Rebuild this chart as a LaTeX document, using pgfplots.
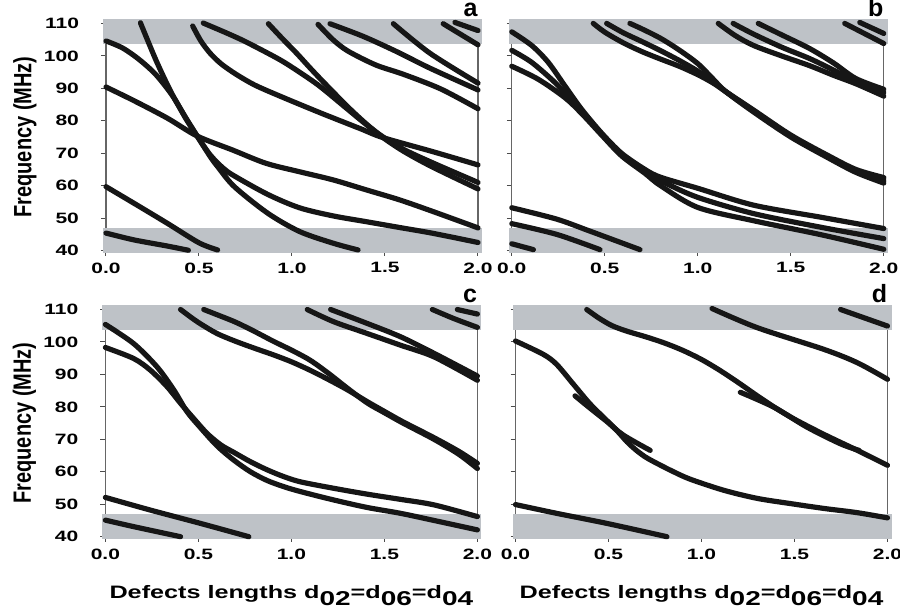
\documentclass[border=0pt]{standalone}
\usepackage{pgfplots}
\pgfplotsset{compat=1.18}
\usepackage{graphicx}
\usepackage{fontspec}
\setmainfont{Liberation Sans}
\newfontfamily\widefont[FakeStretch=1.4]{Liberation Sans}
\newcommand\ticks{\widefont\bfseries\fontsize{7.5}{8}\selectfont}
\newcommand\sub[1]{\raisebox{-3.5pt}{\fontsize{10}{10}\selectfont #1}}
\newcommand\xlab{\widefont\bfseries\fontsize{9}{10}\selectfont Defects lengths d\sub{02}=d\sub{06}=d\sub{04}}
\newcommand\ylab{\scalebox{1}[1.25]{\bfseries\fontsize{10}{12}\selectfont Frequency (MHz)}}
\definecolor{bandgray}{RGB}{190,194,199}
\definecolor{ink}{RGB}{22,22,22}

\pgfplotsset{
    panel/.style = {
        scale only axis,
        width = 186pt, height = 113.6pt,
        xmin = 0, xmax = 2, ymin = 40, ymax = 110,
        clip = false,
        xtick = {0,0.5,1,1.5,2},
        xticklabels = {0.0,0.5,1.0,1.5,2.0},
        ytick = {40,50,...,110},
        /pgf/number format/assume math mode = true,
        tick align = outside,
        xtick pos = bottom, ytick pos = left,
        major tick length = 2.5pt,
        tick style = {black!70, line width = 0.5pt},
        axis line style = {black!60, line width = 0.6pt},
        tick label style = {font = \ticks},
        yticklabel style = {xshift = -7.5pt},
        xlabel style = {at = {(axis description cs:0.5,-0.2702)}, anchor = base},
        ylabel style = {at = {(axis description cs:-0.2177,0.5)}, anchor = center}
    },
    band/.style = {fill = bandgray, draw = none},
    curve/.style = {ink, line width = 2.6pt, smooth, line cap = round, line join = round, mark = none}
}
\newcommand\bands{%
    \addplot[band] coordinates {(-0.016,39.2) (2.022,39.2) (2.022,47.0) (-0.016,47.0)} -- cycle;
    \addplot[band] coordinates {(-0.016,103.6) (2.022,103.6) (2.022,111.4) (-0.016,111.4)} -- cycle;
}
\newcommand\letter[1]{\node[anchor = base east, inner sep = 0pt, font = \bfseries\fontsize{12.5}{13}\selectfont] at (axis description cs:1,1.029) {#1};}

\begin{document}
\begin{tikzpicture}
\useasboundingbox (0,0) rectangle (450pt,305.5pt);

% panel a
\begin{axis}[panel, at = {(53pt,180.2pt)}, anchor = south west, ylabel = {\ylab}]
    \bands
    \addplot[curve] coordinates {(0,104.6) (0.09,102.4) (0.18,98.8) (0.27,94.1) (0.36,87.5) (0.43,80.6) (0.49,75.3) (0.56,69.5) (0.63,65.4) (0.69,63.0) (0.87,57.3) (1.04,53.2) (1.22,50.7) (1.4,48.9) (1.58,47.1) (1.76,45.3) (2.0,42.5)};
    \addplot[curve] coordinates {(0.185,110.2) (0.27,98.5) (0.35,88.8) (0.42,81.8) (0.49,75.3) (0.56,69.0) (0.6,65.9) (0.69,59.7) (0.87,51.5) (1.04,45.9) (1.22,42.3) (1.355,40.2)};
    \addplot[curve] coordinates {(0,90.4) (0.15,86.2) (0.33,80.8) (0.49,75.3) (0.68,71.0) (0.86,66.9) (1.04,64.3) (1.22,61.8) (1.4,58.7) (1.58,55.6) (1.76,52.0) (2.0,47.0)};
    \addplot[curve] coordinates {(0,59.7) (0.15,54.6) (0.33,48.4) (0.5,42.4) (0.6,40.2)};
    \addplot[curve] coordinates {(0,45.4) (0.15,43.3) (0.33,41.4) (0.443,40.1)};
    \addplot[curve] coordinates {(0.466,109.2) (0.51,104.6) (0.56,100.8) (0.62,97.5) (0.7,94.3) (0.8,91.0) (0.935,87.6) (1.15,82.5) (1.366,77.6) (1.49,74.8) (1.75,70.6) (2.0,66.4)};
    \addplot[curve] coordinates {(0.523,110.1) (0.65,107.0) (0.756,104.2) (0.935,98.8) (1.05,94.6) (1.15,90.6) (1.294,83.8) (1.4,78.8) (1.49,75.0) (1.6,71.2) (1.75,67.2) (2.0,61.0)};
    \addplot[curve] coordinates {(0.873,109.9) (0.95,105.2) (1.025,100.8) (1.1,96.1) (1.168,92.0) (1.3,84.3) (1.4,79.0) (1.49,74.8) (1.6,70.6) (1.75,65.9) (2.0,59.0)};
    \addplot[curve] coordinates {(1.14,109.7) (1.22,105.0) (1.3,101.5) (1.45,97.2) (1.6,94.3) (1.8,89.8) (2.0,83.7)};
    \addplot[curve] coordinates {(1.204,109.9) (1.383,106.0) (1.563,101.3) (1.742,96.2) (2.0,89.5)};
    \addplot[curve] coordinates {(1.545,109.9) (1.742,100.8) (2.0,91.6)};
    \addplot[curve] coordinates {(1.813,109.9) (2.0,103.4)};
    \addplot[curve] coordinates {(1.876,110.3) (2.0,107.8)};
    \letter{a}
\end{axis}

% panel b
\begin{axis}[panel, at = {(255.9pt,180.2pt)}, anchor = south west, yticklabels = {}]
    \bands
    \addplot[curve] coordinates {(0,42.1) (0.116,40.3)};
    \addplot[curve] coordinates {(0,48.3) (0.241,45.0) (0.474,40.3)};
    \addplot[curve] coordinates {(0,53.2) (0.241,49.7) (0.42,46.0) (0.689,40.3)};
    \addplot[curve] coordinates {(0,107.4) (0.107,103.2) (0.196,98.0) (0.286,90.7) (0.376,83.5) (0.483,76.2) (0.59,70.0) (0.716,65.0) (0.8,62.6) (1.0,59.2) (1.3,54.0) (1.67,50.2) (2.0,46.8)};
    \addplot[curve] coordinates {(0,101.7) (0.107,98.0) (0.232,91.8) (0.3,87.5) (0.376,82.8) (0.483,75.9) (0.59,69.6) (0.716,64.5) (0.82,61.0) (1.0,56.4) (1.3,51.4) (1.67,47.1) (2.0,43.7)};
    \addplot[curve] coordinates {(0,96.8) (0.142,92.8) (0.286,87.1) (0.376,82.2) (0.483,75.6) (0.59,69.2) (0.716,63.8) (0.8,60.0) (1.0,53.3) (1.3,49.2) (1.67,44.8) (2.0,40.4)};
    \addplot[curve] coordinates {(0.438,110) (0.5,107.3) (0.6,104.0) (0.7,101.3) (0.8,99.0) (0.9,96.8) (1.0,94.2) (1.08,91.7) (1.15,89.0) (1.3,83.3) (1.5,75.6) (1.7,69.3) (1.85,65.0) (2.0,62.5)};
    \addplot[curve] coordinates {(0.51,110) (0.6,107.1) (0.7,104.4) (0.8,101.6) (0.9,98.6) (1.0,95.3) (1.08,92.2) (1.15,89.0) (1.3,83.0) (1.5,75.3) (1.7,68.9) (1.85,64.5) (2.0,61.6)};
    \addplot[curve] coordinates {(0.635,110) (0.7,108.3) (0.8,105.4) (0.9,101.8) (1.0,97.6) (1.08,93.0) (1.15,89.0) (1.3,82.7) (1.5,75.0) (1.7,68.6) (1.85,64.1) (2.0,60.8)};
    \addplot[curve] coordinates {(1.11,110) (1.2,106.3) (1.3,103.2) (1.45,100.0) (1.6,97.0) (1.73,94.0) (1.85,91.4) (2.0,87.6)};
    \addplot[curve] coordinates {(1.19,110) (1.3,106.7) (1.45,102.7) (1.6,99.2) (1.73,95.6) (1.85,92.0) (2.0,88.7)};
    \addplot[curve] coordinates {(1.325,110) (1.45,106.5) (1.6,102.3) (1.73,97.8) (1.85,93.0) (2.0,89.7)};
    \addplot[curve] coordinates {(1.79,110) (2.0,103.8)};
    \addplot[curve] coordinates {(1.871,110.3) (2.0,106.9)};
    \letter{b}
\end{axis}

% panel c
\begin{axis}[panel, at = {(52.7pt,37.15pt)}, anchor = south west, ylabel = {\ylab}, xlabel = {\xlab}]
    \bands
    \addplot[curve] coordinates {(0,45.1) (0.152,43.1) (0.404,40.0)};
    \addplot[curve] coordinates {(0,52.1) (0.242,48.2) (0.511,44.1) (0.771,40.0)};
    \addplot[curve] coordinates {(0,105.4) (0.152,99.5) (0.278,92.3) (0.368,85.2) (0.439,78.5) (0.511,73.6) (0.6,68.0) (0.69,63.6) (0.78,60.0) (0.87,57.3) (0.96,55.4) (1.049,53.9) (1.229,51.3) (1.408,49.0) (1.587,47.2) (1.767,45.0) (2.0,42.1)};
    \addplot[curve] coordinates {(0,98.3) (0.152,94.9) (0.242,91.3) (0.332,86.2) (0.404,81.1) (0.475,76.4) (0.547,71.8) (0.62,68.3) (0.69,66.0) (0.78,63.1) (0.87,60.6) (0.96,58.5) (1.049,56.9) (1.229,54.9) (1.408,53.1) (1.587,51.5) (1.767,49.8) (2.0,46.2)};
    \addplot[curve] coordinates {(0.404,110) (0.46,107.6) (0.511,105.6) (0.6,102.6) (0.7,100.2) (0.8,98.1) (0.9,96.1) (1.0,93.9) (1.1,91.3) (1.2,88.4) (1.3,85.3) (1.408,81.6) (1.5,78.6) (1.6,75.4) (1.767,70.5) (1.9,66.3) (2.0,62.6)};
    \addplot[curve] coordinates {(0.529,110) (0.6,108.4) (0.7,106.1) (0.8,103.3) (0.9,100.3) (1.0,97.5) (1.1,94.4) (1.2,90.3) (1.3,85.8) (1.408,81.2) (1.5,78.2) (1.6,75.0) (1.767,70.0) (1.9,65.4) (2.0,61.0)};
    \addplot[curve] coordinates {(1.085,110) (1.229,106.2) (1.408,102.6) (1.587,99.0) (1.767,95.4) (2.0,88.2)};
    \addplot[curve] coordinates {(1.211,110) (1.408,105.7) (1.587,101.6) (1.767,96.5) (2.0,89.5)};
    \addplot[curve] coordinates {(1.758,110) (1.874,107.2) (2.0,104.5)};
    \addplot[curve] coordinates {(1.892,110) (2.0,108.6)};
    \letter{c}
\end{axis}

% panel d
\begin{axis}[panel, at = {(257.75pt,37.15pt)}, anchor = south west, yticklabels = {}, xlabel = {\xlab}]
    \bands
    \addplot[curve] coordinates {(0,49.9) (0.221,47.2) (0.491,44.1) (0.814,40.0)};
    \addplot[curve] coordinates {(0,100.3) (0.149,96.2) (0.221,93.1) (0.311,87.0) (0.401,80.9) (0.491,75.8) (0.55,72.4) (0.6,69.2) (0.65,66.6) (0.7,64.5) (0.76,62.6) (0.85,60.0) (0.94,57.7) (1.12,54.3) (1.3,51.8) (1.479,50.2) (1.659,48.7) (1.838,47.4) (2.0,45.8)};
    \addplot[curve] coordinates {(0.32,83.4) (0.401,79.6) (0.491,75.5) (0.58,71.3) (0.724,66.6)};
    \addplot[curve] coordinates {(0.383,110) (0.45,107.3) (0.52,105.0) (0.6,103.3) (0.7,101.6) (0.8,99.7) (0.9,97.4) (1.0,94.6) (1.1,91.2) (1.2,87.4) (1.3,83.4) (1.4,79.6) (1.5,76.2) (1.659,71.5) (1.838,66.6) (2.0,62.0)};
    \addplot[curve] coordinates {(1.209,84.5) (1.389,79.9) (1.569,73.7) (1.748,68.6) (1.847,66.6)};
    \addplot[curve] coordinates {(1.057,110.3) (1.3,104.4) (1.659,97.7) (1.838,93.6) (2.0,88.5)};
    \addplot[curve] coordinates {(1.748,110) (2.0,104.9)};
    \letter{d}
\end{axis}
\end{tikzpicture}
\end{document}
